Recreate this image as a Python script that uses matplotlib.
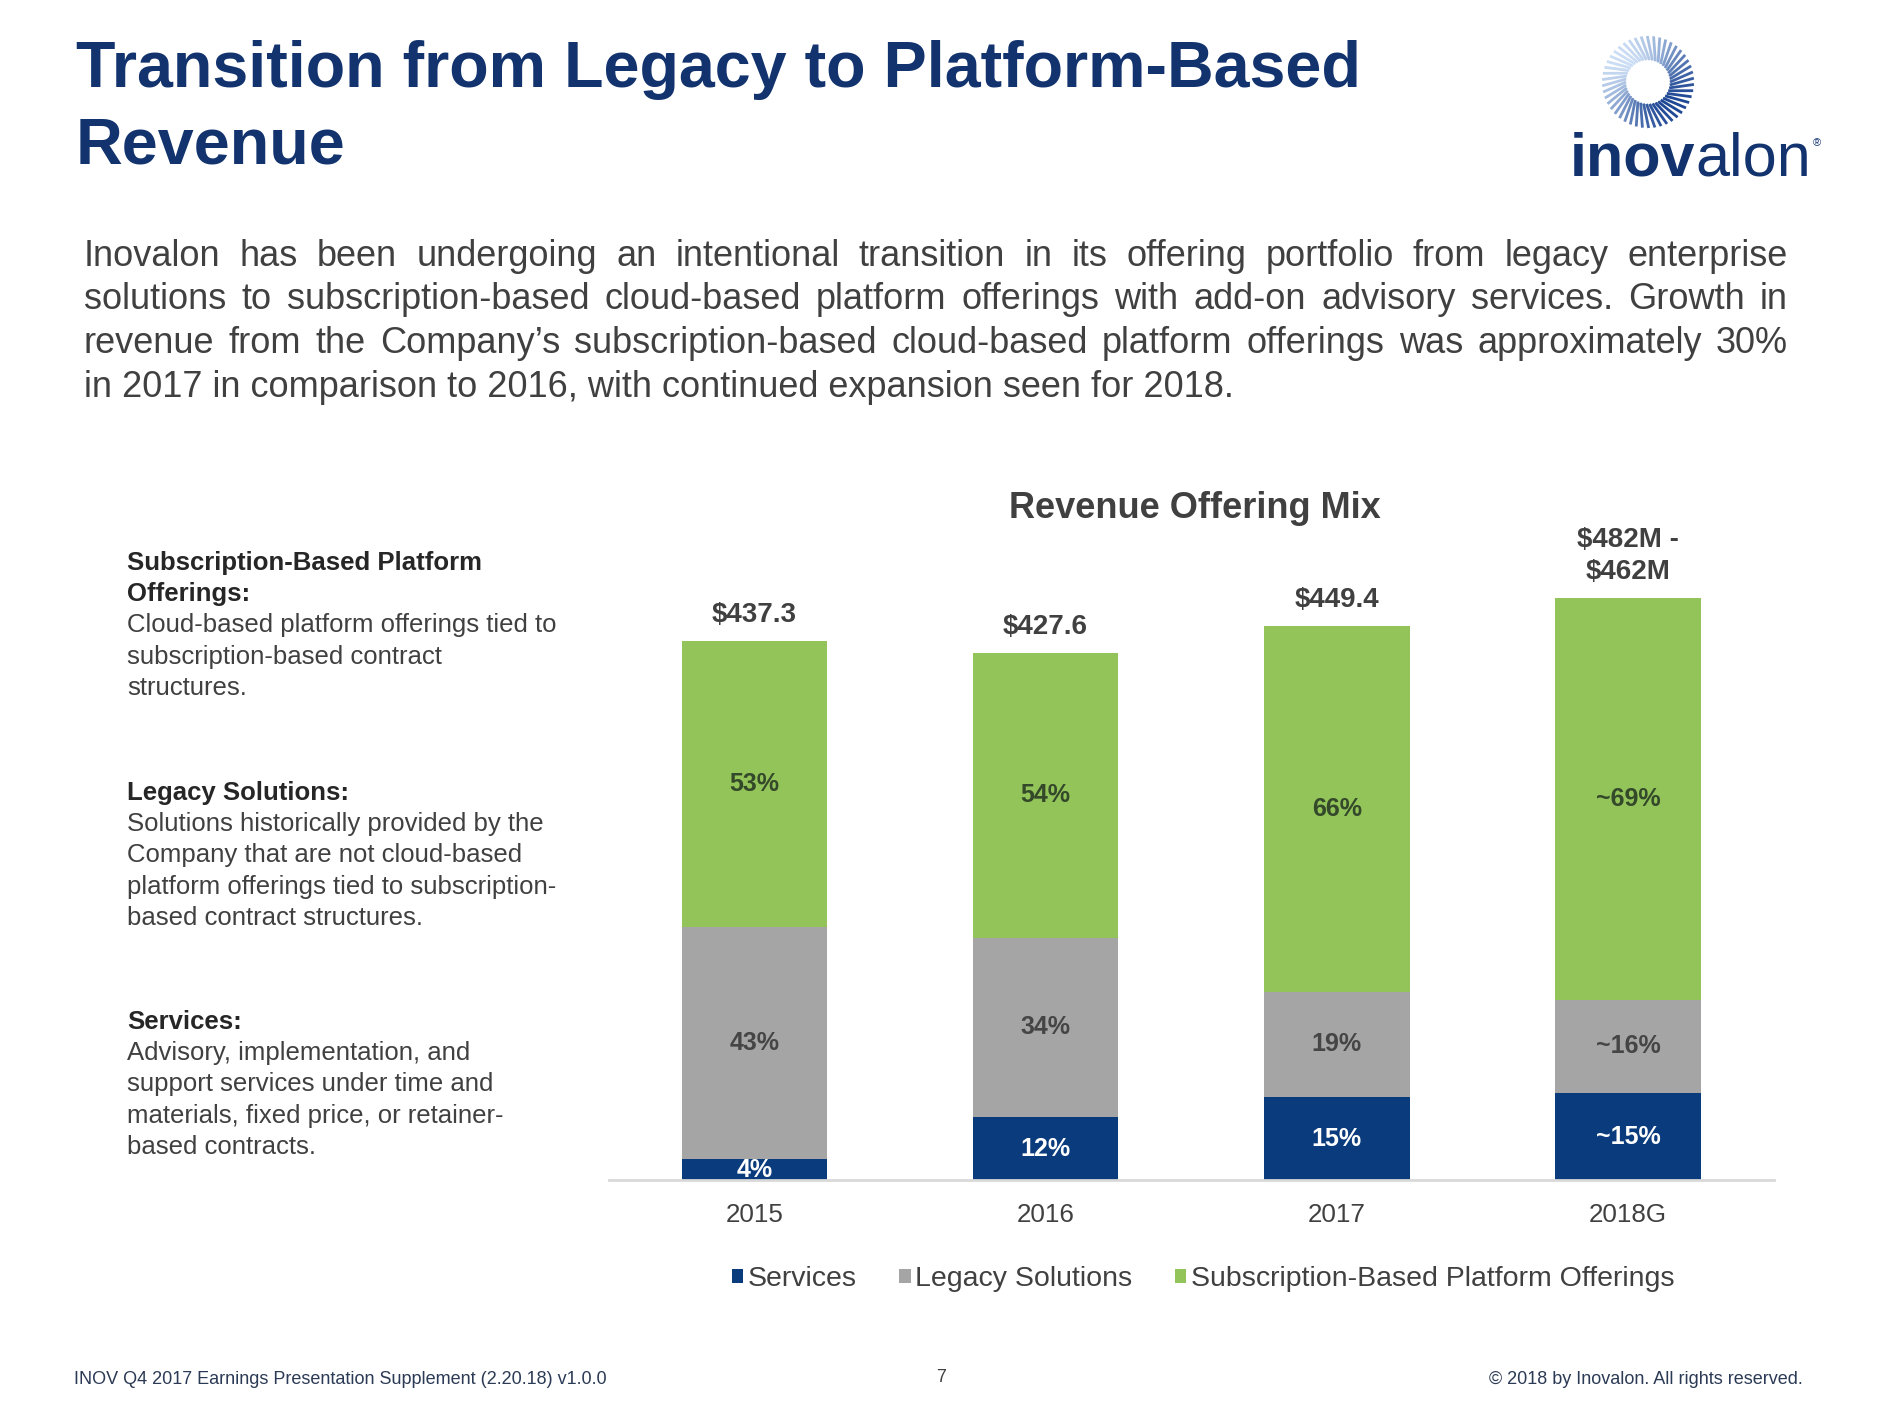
import matplotlib
matplotlib.use('Agg')
import matplotlib.pyplot as plt
import numpy as np

plt.rcParams['font.family'] = ['Liberation Sans', 'DejaVu Sans']

# ---- data ----
years = ['2015', '2016', '2017', '2018G']
totals = [437.3, 427.6, 449.4, 472.0]  # 2018G bar drawn at the middle of the $462M-$482M guidance
total_labels = ['$437.3', '$427.6', '$449.4', '$482M -\n$462M']
services_pct = [4, 12, 15, 15]
legacy_pct = [43, 34, 19, 16]
subscription_pct = [53, 54, 66, 69]
services_lbl = ['4%', '12%', '15%', '~15%']
legacy_lbl = ['43%', '34%', '19%', '~16%']
subscription_lbl = ['53%', '54%', '66%', '~69%']
series_names = ['Services', 'Legacy Solutions', 'Subscription-Based Platform Offerings']

paragraph = [
    'Inovalon has been undergoing an intentional transition in its offering portfolio from legacy enterprise',
    'solutions to subscription-based cloud-based platform offerings with add-on advisory services. Growth in',
    'revenue from the Company\u2019s subscription-based cloud-based platform offerings was approximately 30%',
    'in 2017 in comparison to 2016, with continued expansion seen for 2018.',
]

notes = [
    (['Subscription-Based Platform', 'Offerings:'],
     ['Cloud-based platform offerings tied to', 'subscription-based contract', 'structures.']),
    (['Legacy Solutions:'],
     ['Solutions historically provided by the', 'Company that are not cloud-based',
      'platform offerings tied to subscription-', 'based contract structures.']),
    (['Services:'],
     ['Advisory, implementation, and', 'support services under time and',
      'materials, fixed price, or retainer-', 'based contracts.']),
]

NAVY = '#0A3B7C'
GREY = '#A5A5A5'
GREEN = '#93C45A'
TITLE = '#12336E'
TEXT = '#404040'

W, H = 1879, 1410
fig = plt.figure(figsize=(W / 100, H / 100), dpi=100)
fig.patch.set_facecolor('white')
renderer = fig.canvas.get_renderer()


def px(x):
    return x / W


def py(y):
    return 1 - y / H


# ---- slide title ----
fig.text(px(76), py(87), 'Transition from Legacy to Platform-Based', fontsize=46.5,
         weight='bold', color=TITLE, va='baseline')
fig.text(px(76), py(163), 'Revenue', fontsize=46.5, weight='bold', color=TITLE, va='baseline')

# ---- logo ----
lax = fig.add_axes([px(1648 - 60), py(82 + 60), 120 / W, 120 / H])
lax.set_xlim(-60, 60)
lax.set_ylim(-60, 60)
lax.set_aspect('equal')
lax.axis('off')
light = np.array([0.80, 0.87, 0.96])
dark = np.array([0.12, 0.28, 0.58])
for th in np.linspace(0, 2 * np.pi, 46, endpoint=False):
    shade = 0.5 * (1 + np.cos(th - np.deg2rad(-50)))
    col = light + (dark - light) * shade
    th2 = th + 0.22
    lax.plot([22 * np.cos(th), 46 * np.cos(th2)], [22 * np.sin(th), 46 * np.sin(th2)],
             color=col, lw=2.0, solid_capstyle='butt')

t1 = fig.text(px(1570), py(175), 'inov', fontsize=44, weight='bold', color=TITLE, va='baseline')
w1 = t1.get_window_extent(renderer).width
t2 = fig.text(px(1570 + w1), py(175), 'alon', fontsize=44, color=TITLE, va='baseline')
w2 = t2.get_window_extent(renderer).width
fig.text(px(1572 + w1 + w2), py(146), '\u00ae', fontsize=8, color=TITLE, va='baseline')

# ---- justified paragraph ----
para_left, para_right = 84, 1788
para_base = [266, 309, 353, 397]
for i, line in enumerate(paragraph):
    if i == len(paragraph) - 1:
        fig.text(px(para_left), py(para_base[i]), line, fontsize=26, color=TEXT, va='baseline')
        continue
    words = line.split(' ')
    texts = [fig.text(0, py(para_base[i]), w, fontsize=26, color=TEXT, va='baseline') for w in words]
    widths = [t.get_window_extent(renderer).width for t in texts]
    gap = (para_right - para_left - sum(widths)) / (len(words) - 1)
    x = para_left
    for t, w in zip(texts, widths):
        t.set_x(px(x))
        x += w + gap

# ---- left-hand definitions ----
base_starts = [570, 800, 1029]
step = 31.2
for (heads, body), y0 in zip(notes, base_starts):
    y = y0
    for h in heads:
        fig.text(px(127), py(y), h, fontsize=18.5, weight='bold', color='#262626', va='baseline')
        y += step
    for b in body:
        fig.text(px(127), py(y), b, fontsize=18.5, color=TEXT, va='baseline')
        y += step

# ---- chart ----
fig.text(px(1195), py(508), 'Revenue Offering Mix', fontsize=26, weight='bold', color=TEXT,
         ha='center', va='center')

ax_left, ax_right, ax_base = 608.7, 1773.5, 1180.3
ax_h = 560 * 1.2337
ax = fig.add_axes([px(ax_left), py(ax_base), (ax_right - ax_left) / W, ax_h / H])

x = np.arange(len(years))
tot = np.array(totals)
serv = tot * np.array(services_pct) / 100
leg = tot * np.array(legacy_pct) / 100
sub = tot * np.array(subscription_pct) / 100

b1 = ax.bar(x, serv, width=0.5, color=NAVY, label=series_names[0])
b2 = ax.bar(x, leg, width=0.5, bottom=serv, color=GREY, label=series_names[1])
b3 = ax.bar(x, sub, width=0.5, bottom=serv + leg, color=GREEN, label=series_names[2])

for i in range(len(years)):
    ax.text(x[i], serv[i] / 2, services_lbl[i], ha='center', va='center',
            fontsize=18, weight='bold', color='white')
    ax.text(x[i], serv[i] + leg[i] / 2, legacy_lbl[i], ha='center', va='center',
            fontsize=18, weight='bold', color='#454545')
    ax.text(x[i], serv[i] + leg[i] + sub[i] / 2, subscription_lbl[i], ha='center', va='center',
            fontsize=18, weight='bold', color='#34482A')
    ax.annotate(total_labels[i], (x[i], tot[i]), xytext=(0, 9), textcoords='offset points',
                ha='center', va='bottom', fontsize=20, weight='bold', color=TEXT,
                linespacing=1.3)

ax.set_xlim(-0.5, 3.5)
ax.set_ylim(0, 560)
ax.set_yticks([])
ax.set_xticks(x)
ax.set_xticklabels(years, fontsize=18.7, color=TEXT)
ax.tick_params(axis='x', length=0, pad=16)
for s in ['top', 'right', 'left']:
    ax.spines[s].set_visible(False)
ax.spines['bottom'].set_color('#D9D9D9')
ax.spines['bottom'].set_linewidth(2)
ax.patch.set_alpha(0)

fig.legend([b1, b2, b3], series_names, loc='center', bbox_to_anchor=(px(1203), py(1279)),
           ncol=3, frameon=False, fontsize=20.5, handlelength=0.4, handleheight=0.4,
           handletextpad=0.15, columnspacing=1.5, labelcolor=TEXT)

# ---- footer ----
fig.text(px(74), py(1380), 'INOV Q4 2017 Earnings Presentation Supplement (2.20.18) v1.0.0',
         fontsize=13, color='#2B3A55', va='center')
fig.text(px(941), py(1378), '7', fontsize=13, color='#404040', ha='center', va='center')
fig.text(px(1803), py(1380), '\u00a9 2018 by Inovalon. All rights reserved.',
         fontsize=13, color='#2B3A55', ha='right', va='center')

fig.savefig('out.png', dpi=100)
